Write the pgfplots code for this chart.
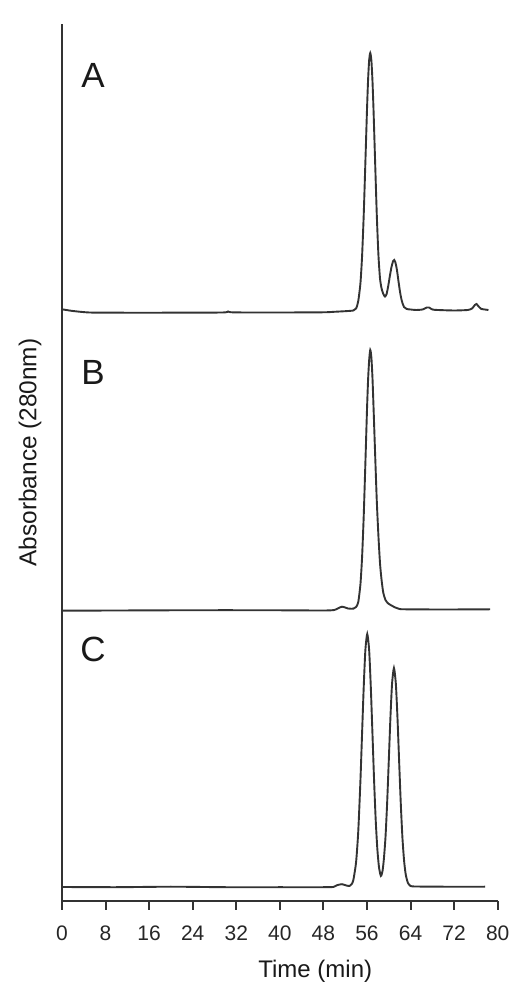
\documentclass[border=0pt]{standalone}
\usepackage{pgfplots}
\pgfplotsset{compat=1.18}
\usepackage{fontspec}
\setmainfont{Liberation Sans}
\definecolor{ink}{gray}{0.2}
\begin{document}
\begin{tikzpicture}
\begin{axis}[
  scale only axis, width=217.85pt, height=438.5pt,
  xmin=0, xmax=80, ymin=0, ymax=877,
  axis x line=bottom, axis y line=left,
  axis line style={-, line width=1pt, ink},
  ytick=\empty,
  xtick={0,8,...,80},
  tick align=outside, major tick length=4.5pt,
  x tick style={line width=1pt, ink},
  xticklabel style={font=\fontsize{10.5}{12}\selectfont, text=black!85, yshift=-4.5pt},
  /pgf/number format/assume math mode=true,
  clip=false,
]
\coordinate (bl) at (rel axis cs:0,0);
% Trace A
\addplot[ink, line width=0.95pt, smooth, tension=0.4] coordinates {
(0,591.7) (2,590) (5,588.5) (10,588.3) (20,588.3) (29.5,588.5) (30.5,589.5) (31.5,588.6)
(40,588.5) (48,588.7) (50,589.2) (52,589.8) (53.5,590.5) (54.0,592.5) (54.4,600) (54.8,618)
(55.1,645) (55.4,686) (55.7,738) (56.0,791) (56.2,821) (56.4,841) (56.6,848) (56.8,841)
(57.0,821) (57.2,791) (57.5,738) (57.8,686) (58.1,646) (58.4,622) (58.7,612) (59.0,607)
(59.3,604.5) (59.6,607) (59.9,615) (60.2,625) (60.5,634) (60.8,640) (61.0,641) (61.2,639)
(61.5,631) (61.8,619) (62.1,608) (62.4,600) (62.8,594) (63.3,592) (64,591.5) (65,591)
(66.2,591.5) (67.0,593.5) (67.4,593.5) (68.0,591.5) (69,591) (72,590.5) (74.5,591)
(75.3,592.5) (75.8,596) (76.1,597) (76.5,594.5) (77.0,592) (77.6,591.5) (78.3,591)
};
% Trace B
\addplot[ink, line width=0.95pt, smooth, tension=0.4] coordinates {
(0,290.3) (10,290.5) (20,290.7) (30,290.8) (40,290.7) (48,290.5) (50,291) (50.8,293)
(51.4,294.3) (52.0,293.5) (52.5,292.5) (53.5,292.3) (54.0,294) (54.4,299) (54.8,317)
(55.1,344) (55.4,385) (55.7,437) (56.0,491) (56.2,521) (56.4,541) (56.6,551) (56.8,544)
(57.0,524) (57.2,494) (57.5,446) (57.8,400) (58.1,365) (58.4,337) (58.7,320) (59.0,308)
(59.4,301) (59.9,297.5) (60.5,295.5) (61.2,293.5) (62.0,292) (63,291.7) (70,291.5) (78.6,291.7)
};
% Trace C
\addplot[ink, line width=0.95pt, smooth, tension=0.4] coordinates {
(0,14) (10,13.8) (20,14.3) (30,13.8) (40,13.8) (48,13.8) (49.8,14) (50.5,15.8) (51.4,16.8)
(52.2,15.5) (52.8,15) (53.2,17) (53.5,21) (54.0,39) (54.4,70) (54.8,121) (55.1,168)
(55.4,214) (55.7,250.6) (56.05,267) (56.4,250.6) (56.7,214) (57.0,168) (57.3,121)
(57.6,81) (57.9,52) (58.2,34) (58.55,25) (58.85,30) (59.1,42) (59.4,64) (59.7,98)
(60.0,140) (60.3,183) (60.6,217) (60.95,233) (61.3,217) (61.6,183) (61.9,140) (62.2,98)
(62.5,64) (62.8,41) (63.1,27) (63.5,18.3) (64.0,15) (65,14.5) (70,14.3) (77.7,14.3)
};
\node[font=\fontsize{17.5}{20}\selectfont, anchor=base, text=black!90] at (axis cs:5.7,813) {A};
\node[font=\fontsize{17.5}{20}\selectfont, anchor=base, text=black!90] at (axis cs:5.7,516) {B};
\node[font=\fontsize{17.5}{20}\selectfont, anchor=base, text=black!90] at (axis cs:5.7,239) {C};
\node[font=\fontsize{12.2}{14}\selectfont, rotate=90, text=black!90] at ([xshift=-16pt]axis cs:0,448.5) {Absorbance (280nm)};
\node[font=\fontsize{12}{14}\selectfont, text=black!90] at ([yshift=-35pt]axis cs:46.5,0) {Time (min)};
\end{axis}
\pgfresetboundingbox
\path ([shift={(-31pt,-49.5pt)}]bl) rectangle ([shift={(230pt,450.5pt)}]bl);
\end{tikzpicture}
\end{document}
